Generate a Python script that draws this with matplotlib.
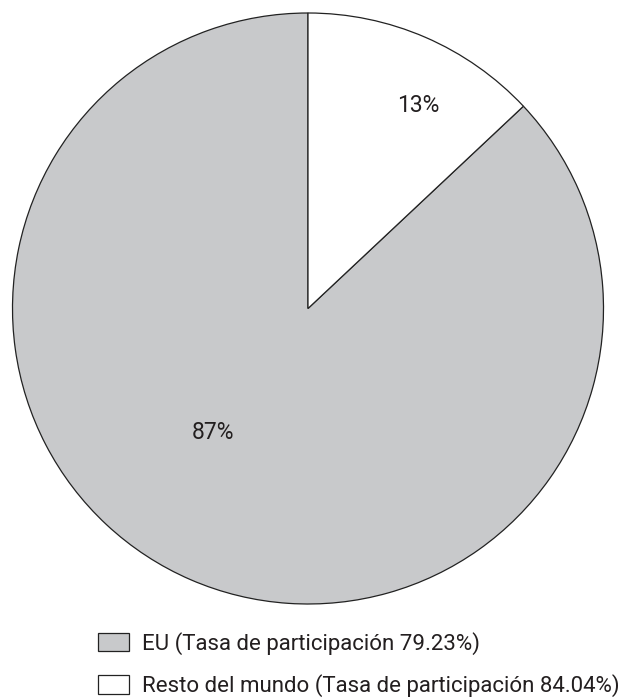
import matplotlib.pyplot as plt

# share of the total by region
labels = ["EU (Tasa de participación 79.23%)",
          "Resto del mundo (Tasa de participación 84.04%)"]
shares = [87, 13]
colors = ["#c8c9cb", "#ffffff"]

plt.rcParams['font.family'] = ['Roboto', 'DejaVu Sans']

fig = plt.figure(figsize=(6.34, 7.0), dpi=100)
W, H = 634, 700
cx, cy, r = 308, 308.5, 295.5
ax = fig.add_axes([(cx - r) / W, (H - cy - r) / H, 2 * r / W, 2 * r / H])

wedges, texts, autotexts = ax.pie(
    shares, colors=colors, startangle=90, counterclock=True, radius=1,
    autopct='%d%%',
    wedgeprops=dict(edgecolor='#222222', linewidth=0.9),
    textprops=dict(fontsize=16.5, color='#231f20'))
# EU slice is drawn counter-clockwise from 12 o'clock, the rest fills the top right
ax.set_xlim(-1, 1)
ax.set_ylim(-1, 1)
ax.set_aspect('equal')
ax.axis('off')

# label positions inside each slice
autotexts[0].set_position((-0.322, -0.42))
autotexts[1].set_position((0.373, 0.688))

fsz = 16
fs = fsz * 100 / 72.0
fig.legend(wedges, labels, loc='upper left',
           bbox_to_anchor=(98 / W, (H - 632) / H),
           frameon=False, borderpad=0, borderaxespad=0,
           fontsize=fsz, handlelength=31 / fs, handleheight=20 / fs,
           handletextpad=13 / fs, labelspacing=0.86,
           labelcolor='#231f20')

fig.savefig('out.png', dpi=100, facecolor='white')
